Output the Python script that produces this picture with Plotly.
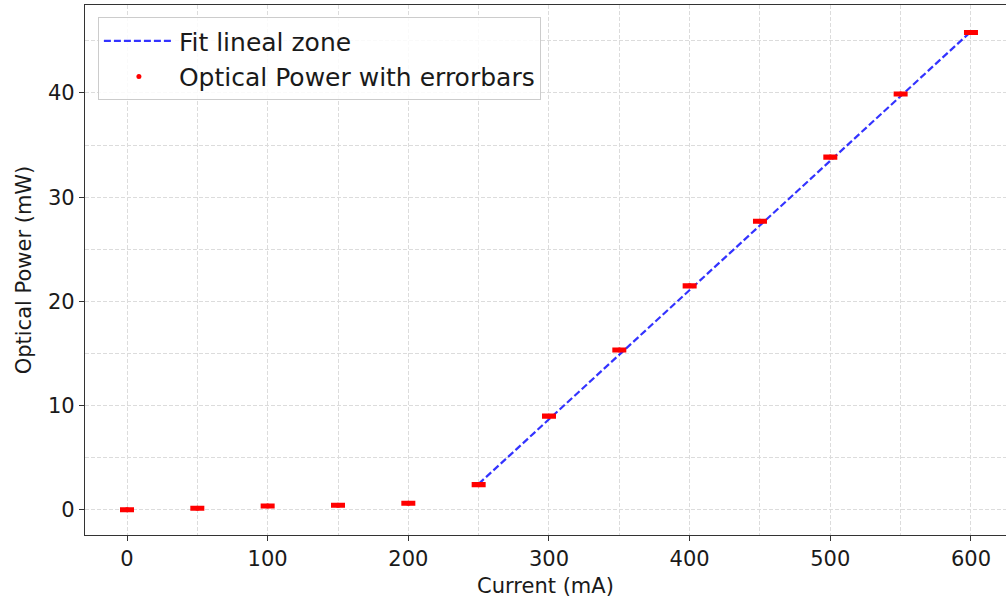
import plotly.graph_objects as go

current = [0, 50, 100, 150, 200, 250, 300, 350, 400, 450, 500, 550, 600]
power = [0.02, 0.16, 0.38, 0.45, 0.64, 2.43, 9.0, 15.35, 21.5, 27.7, 33.85, 39.9, 45.8]
power_err = [0.12] * len(current)

fit_x = [250, 600]
fit_slope = 0.1240
fit_intercept = -28.5
fit_y = [fit_slope * x + fit_intercept for x in fit_x]

FONT = "DejaVu Sans"
grid_col = "#dcdcdc"
GD = "4px,2px"

fig = go.Figure()
fig.add_trace(go.Scatter(
    x=fit_x, y=fit_y, mode="lines", name="Fit lineal zone",
    line=dict(color="rgba(0,0,255,0.8)", width=2.2, dash="7px,3px"),
))
fig.add_trace(go.Scatter(
    x=current, y=power, mode="markers", name="Optical Power with errorbars",
    marker=dict(color="red", size=5),
    error_y=dict(type="data", array=power_err, visible=True, color="red",
                 thickness=2.6, width=7),
))

fig.update_layout(
    width=1006, height=603,
    margin=dict(l=85, r=0, t=5, b=68),
    paper_bgcolor="white", plot_bgcolor="white",
    font=dict(family=FONT, size=21, color="#1a1a1a"),
    showlegend=True,
    legend=dict(x=0.014, y=0.977, xanchor="left", yanchor="top",
                bgcolor="rgba(255,255,255,0.85)", bordercolor="#cccccc", borderwidth=1,
                font=dict(size=25, family=FONT), tracegroupgap=0, itemwidth=70),
)
fig.update_xaxes(
    range=[-29.86, 624.9], tickvals=[0, 100, 200, 300, 400, 500, 600],
    showgrid=True, gridcolor=grid_col, griddash=GD, gridwidth=1,
    minor=dict(tickvals=[50, 150, 250, 350, 450, 550], showgrid=True,
               gridcolor=grid_col, griddash=GD, gridwidth=1),
    showline=True, linecolor="#333333", linewidth=1.2, mirror=True,
    ticks="outside", ticklen=5, tickcolor="#333333",
    zeroline=False,
    title=dict(text="Current (mA)", font=dict(size=21, family=FONT), standoff=8),
    tickfont=dict(size=21, family=FONT),
)
fig.update_yaxes(
    range=[-2.4, 48.44], tickvals=[0, 10, 20, 30, 40],
    showgrid=True, gridcolor=grid_col, griddash=GD, gridwidth=1,
    minor=dict(tickvals=[5, 15, 25, 35, 45], showgrid=True,
               gridcolor=grid_col, griddash=GD, gridwidth=1),
    showline=True, linecolor="#333333", linewidth=1.2,
    ticks="outside", ticklen=5, tickcolor="#333333",
    zeroline=False,
    title=dict(text="Optical Power (mW)", font=dict(size=21, family=FONT), standoff=10),
    tickfont=dict(size=21, family=FONT),
)

fig.write_html("out.html")
